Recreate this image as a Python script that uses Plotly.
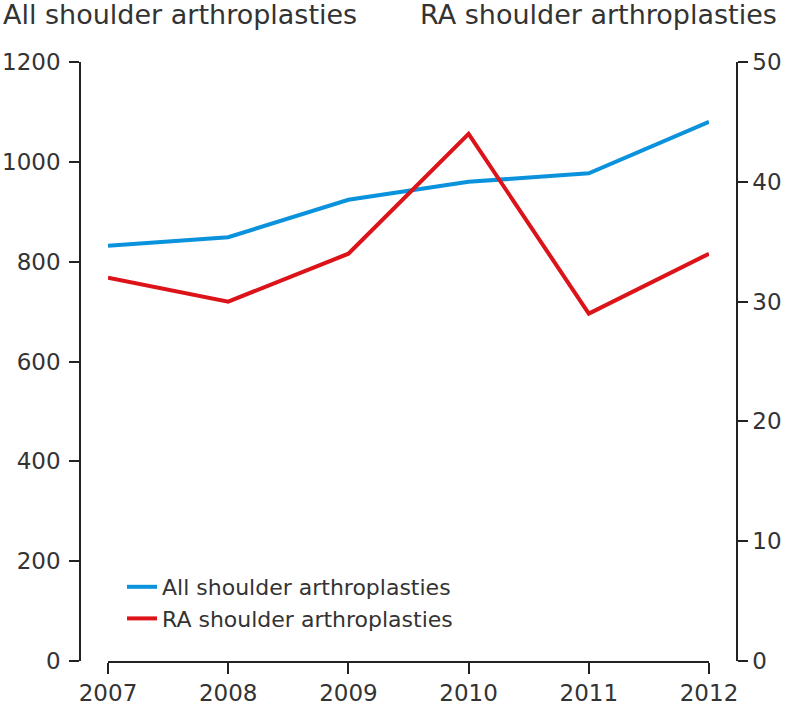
import plotly.graph_objects as go

years = [2007, 2008, 2009, 2010, 2011, 2012]
all_shoulder = [832, 849, 924, 960, 977, 1080]
ra_shoulder = [32, 30, 34, 44, 29, 34]

left_ticks = [0, 200, 400, 600, 800, 1000, 1200]
right_ticks = [0, 10, 20, 30, 40, 50]

BLUE = "#0b92dc"
RED = "#dc1419"
TXT = "#333333"
AX = "#222222"
FONT = "DejaVu Sans"

W, H = 788, 705
ML, MR, MT, MB = 80, 51, 62, 44
PW = W - ML - MR
PH = H - MT - MB

def px_x(p):
    return (p - ML) / PW

def px_y(p):
    return (H - MB - p) / PH

fig = go.Figure()
fig.add_trace(go.Scatter(x=years, y=all_shoulder, mode="lines", name="All shoulder arthroplasties",
                         line=dict(color=BLUE, width=4), yaxis="y"))
fig.add_trace(go.Scatter(x=years, y=ra_shoulder, mode="lines", name="RA shoulder arthroplasties",
                         line=dict(color=RED, width=4), yaxis="y2"))

fig.update_layout(
    width=W, height=H,
    margin=dict(l=ML, r=MR, t=MT, b=MB, autoexpand=False),
    paper_bgcolor="white", plot_bgcolor="white",
    font=dict(family=FONT, size=23, color=TXT),
    xaxis=dict(domain=[px_x(108), px_x(709)], range=[2007, 2012], tickvals=years,
               showgrid=False, zeroline=False, showline=True, linecolor=AX, linewidth=1.5,
               ticks="outside", ticklen=11, tickwidth=1.5, tickcolor=AX,
               tickfont=dict(size=23, color=TXT), anchor="y", automargin=False),
    yaxis=dict(range=[0, 1200], tickvals=left_ticks, anchor="free", position=0,
               showgrid=False, zeroline=False, showline=True, linecolor=AX, linewidth=1.5,
               ticks="outside", ticklen=10, tickwidth=1.5, tickcolor=AX,
               tickfont=dict(size=23, color=TXT), ticklabelstandoff=4, automargin=False),
    yaxis2=dict(range=[0, 50], tickvals=right_ticks, anchor="free", position=1,
                overlaying="y", side="right",
                showgrid=False, zeroline=False, showline=True, linecolor=AX, linewidth=1.5,
                ticks="outside", ticklen=10, tickwidth=1.5, tickcolor=AX,
                tickfont=dict(size=23, color=TXT), automargin=False),
    showlegend=True,
    legend=dict(x=px_x(122), y=px_y(566), xanchor="left", yanchor="top",
                font=dict(size=22, color=TXT), bgcolor="rgba(0,0,0,0)",
                tracegroupgap=0),
    annotations=[
        dict(text="All shoulder arthroplasties", xref="paper", yref="paper",
             x=px_x(1), y=px_y(14), xanchor="left", yanchor="middle", showarrow=False,
             font=dict(size=27, color=TXT)),
        dict(text="RA shoulder arthroplasties", xref="paper", yref="paper",
             x=px_x(779), y=px_y(14), xanchor="right", yanchor="middle", showarrow=False,
             font=dict(size=27, color=TXT)),
    ],
)

fig.write_html("out.html", config={"displayModeBar": False},
               post_script="document.body.style.margin='0px';")
